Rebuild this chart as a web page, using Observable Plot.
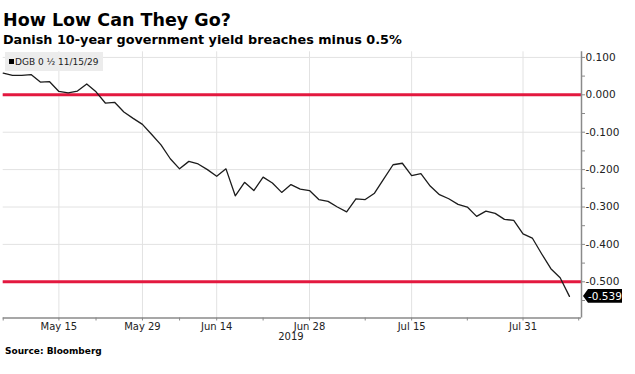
<!DOCTYPE html>
<html>
<head>
<meta charset="utf-8">
<script src="https://cdn.jsdelivr.net/npm/d3@7"></script>
<script src="https://cdn.jsdelivr.net/npm/@observablehq/plot@0.6"></script>
<style>
  html, body { margin: 0; padding: 0; background: #fff; }
  body { position: relative; width: 635px; height: 374px; overflow: hidden; font-family: "DejaVu Sans", Verdana, sans-serif; color: #000; }
  .title { position: absolute; left: 3px; top: 12px; font-size: 17.5px; line-height: 17.5px; font-weight: bold; white-space: nowrap; }
  .subtitle { position: absolute; left: 3px; top: 33.5px; font-size: 12.8px; line-height: 12.8px; font-weight: bold; white-space: nowrap; }
  #chart { position: absolute; left: 0; top: 48px; }
  .legend { position: absolute; left: 5px; top: 52px; width: 98px; height: 19px; background: #ececec; font-size: 9px; display: flex; align-items: center; padding-left: 4px; box-sizing: border-box; white-space: nowrap; color: #222; }
  .legend .sq { display: inline-block; width: 5px; height: 5px; background: #000; margin-right: 1px; }
  .source { position: absolute; left: 5px; top: 347px; font-size: 9px; line-height: 9px; font-weight: bold; white-space: nowrap; }
</style>
</head>
<body>
<div class="title">How Low Can They Go?</div>
<div class="subtitle">Danish 10-year government yield breaches minus 0.5%</div>
<div id="chart"></div>
<div class="legend"><span class="sq"></span><span id="legendText"></span></div>
<div class="source">Source: Bloomberg</div>
<script>
// Danish trading days (holidays excluded), last one only extends the axis
const tradingDays = [
  "2019-05-07","2019-05-08","2019-05-09","2019-05-10","2019-05-13","2019-05-14","2019-05-15","2019-05-16",
  "2019-05-20","2019-05-21","2019-05-22","2019-05-23","2019-05-24","2019-05-27","2019-05-28","2019-05-29",
  "2019-06-03","2019-06-04","2019-06-06","2019-06-07","2019-06-11","2019-06-12","2019-06-13","2019-06-14",
  "2019-06-17","2019-06-18","2019-06-19","2019-06-20","2019-06-21","2019-06-24","2019-06-25","2019-06-26",
  "2019-06-27","2019-06-28","2019-07-01","2019-07-02","2019-07-03","2019-07-04","2019-07-05","2019-07-08",
  "2019-07-09","2019-07-10","2019-07-11","2019-07-12","2019-07-15","2019-07-16","2019-07-17","2019-07-18",
  "2019-07-19","2019-07-22","2019-07-23","2019-07-24","2019-07-25","2019-07-26","2019-07-29","2019-07-30",
  "2019-07-31","2019-08-01","2019-08-02","2019-08-05","2019-08-06","2019-08-07","2019-08-08"
];
// DGB 0 1/2 11/15/29 yield, %
const yields = [
  0.058, 0.052, 0.052, 0.054, 0.034, 0.035, 0.009, 0.005, 0.010, 0.029,
  0.008, -0.022, -0.020, -0.046, -0.063, -0.079, -0.106, -0.134, -0.171, -0.198,
  -0.178, -0.185, -0.200, -0.218, -0.198, -0.270, -0.234, -0.256, -0.220, -0.236,
  -0.261, -0.240, -0.252, -0.256, -0.280, -0.285, -0.300, -0.313, -0.278, -0.280,
  -0.263, -0.225, -0.187, -0.183, -0.216, -0.211, -0.244, -0.267, -0.278, -0.293,
  -0.300, -0.325, -0.311, -0.317, -0.333, -0.336, -0.372, -0.383, -0.425, -0.465,
  -0.489, -0.539
];
const seriesName = "DGB 0 \u00BD 11/15/29";
const thresholds = [0, -0.5];
const yTicks = [0.1, 0, -0.1, -0.2, -0.3, -0.4, -0.5];
const yMinorTicks = [0.05, -0.05, -0.15, -0.25, -0.35, -0.45, -0.55];
const majorTickDates = ["2019-05-15","2019-05-29","2019-06-14","2019-06-28","2019-07-15","2019-07-31"];
const minorTickDates = ["2019-05-07","2019-05-22","2019-06-07","2019-06-21","2019-07-08","2019-07-23","2019-08-08"];
const yearLabel = "2019";
const yearLabelDate = "2019-06-26";

document.getElementById("legendText").textContent = seriesName;

const data = yields.map((v, i) => ({i, date: tradingDays[i], v}));
const idx = d => tradingDays.indexOf(d);
const majorIdx = majorTickDates.map(idx);
const minorIdx = minorTickDates.map(idx);
const monthFmt = d3.utcFormat("%b %d");
const fmtDate = i => { const s = monthFmt(new Date(tradingDays[i] + "T00:00:00Z")); return s.replace(" 0", " "); };
const fmtY = v => v.toFixed(3);

const red = "#e3183f";
const axisGray = "#8a8a8a";

const plot = Plot.plot({
  width: 635,
  height: 298,
  marginLeft: 2.7,
  marginRight: 54,
  marginTop: 3.3,
  marginBottom: 28.5,
  style: { fontFamily: "DejaVu Sans, Verdana, sans-serif", background: "transparent", overflow: "visible" },
  x: { type: "linear", domain: [0, tradingDays.length - 0.7], label: null },
  y: { domain: [-0.5968, 0.115], label: null },
  marks: [
    Plot.gridY(yTicks, { stroke: "#e2e2e2", strokeOpacity: 1 }),
    Plot.gridX(majorIdx, { stroke: "#e2e2e2", strokeOpacity: 1 }),
    Plot.ruleY(thresholds, { stroke: red, strokeWidth: 3 }),
    Plot.line(data, { x: "i", y: "v", stroke: "#1c1c1c", strokeWidth: 1.3 }),
    Plot.ruleX([tradingDays.length - 0.7], { stroke: axisGray, strokeWidth: 1.5 }),
    Plot.ruleY([-0.5968], { stroke: axisGray, strokeWidth: 1.5 }),
    Plot.axisY(yTicks, { anchor: "right", label: null, tickSize: 3, tickPadding: 1, tickFormat: fmtY, fontSize: 10.5, stroke: axisGray, color: "#222" }),
    Plot.axisY(yMinorTicks, { anchor: "right", label: null, tickSize: 3, tickFormat: () => "", stroke: axisGray }),
    Plot.axisX(majorIdx, { anchor: "bottom", label: null, tickSize: 3, tickPadding: 2, tickFormat: fmtDate, fontSize: 10, stroke: axisGray, color: "#222" }),
    Plot.axisX(minorIdx, { anchor: "bottom", label: null, tickSize: 3, tickFormat: () => "", stroke: axisGray }),
    Plot.text([yearLabel], { x: idx(yearLabelDate), frameAnchor: "bottom", dy: 22.3, fontSize: 10, fill: "#222" })
  ]
});

document.getElementById("chart").appendChild(plot);

// last value tag on right axis
const ys = plot.scale("y"), xs = plot.scale("x");
const last = yields[yields.length - 1];
const yc = ys.apply(last);
const x0 = xs.range[1] + 2;
const svg = d3.select(plot);
const g = svg.append("g");
g.append("path")
  .attr("d", `M${x0},${yc} L${x0 + 5},${yc - 6.8} L${x0 + 39},${yc - 6.8} L${x0 + 39},${yc + 6.8} L${x0 + 5},${yc + 6.8} Z`)
  .attr("fill", "#000");
g.append("text")
  .attr("x", x0 + 22).attr("y", yc).attr("dy", "0.35em")
  .attr("text-anchor", "middle").attr("fill", "#fff")
  .attr("font-size", 10.5)
  .text(last.toFixed(3));
</script>
</body>
</html>
